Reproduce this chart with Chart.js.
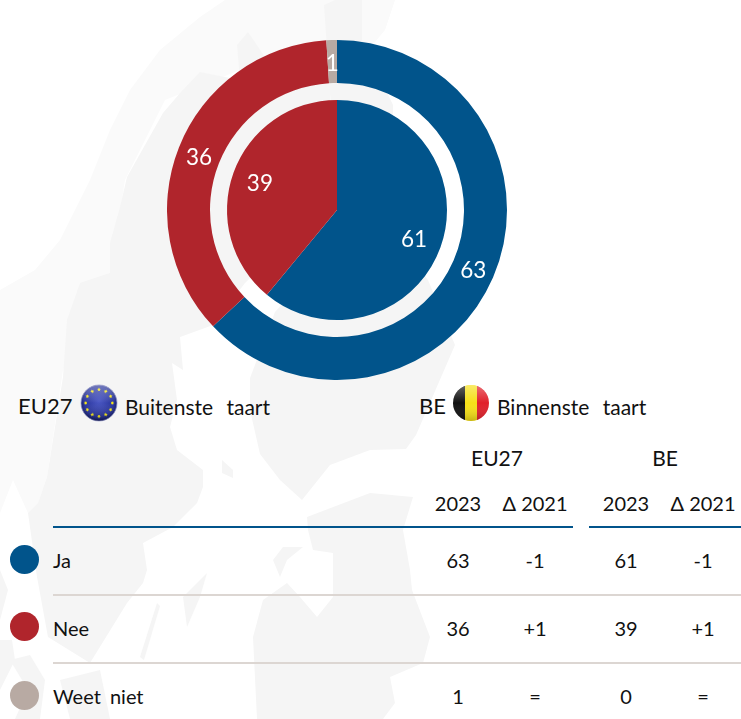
<!DOCTYPE html>
<html>
<head>
<meta charset="utf-8">
<title>Taart EU27 / BE</title>
<script src="https://cdn.jsdelivr.net/npm/chart.js@4/dist/chart.umd.min.js"></script>
<style>
    html, body { margin: 0; padding: 0; background: #fff; overflow: hidden; }
    #page { position: relative; width: 741px; height: 719px; overflow: hidden; font-family: Lato, sans-serif; color: #111; }
    #map, #flags { position: absolute; left: 0; top: 0; }
    #divChart { position: absolute; left: 167px; top: 40px; width: 340px; height: 340px; }
    .txt { position: absolute; white-space: pre; font-size: 20px; line-height: 24px; transform: translate(-50%, -50%); }
    .left { transform: translate(0, -50%); }
    .wide { word-spacing: 4px; }
    .wider { word-spacing: 8px; }
    .rule { position: absolute; height: 1.5px; background: #dcd6d2; }
    .rule.top { height: 2px; background: #01548b; }
    .dot { position: absolute; width: 29px; height: 29px; border-radius: 50%; }
</style>
</head>
<body>
<div id="page">
    <svg id="map" width="741" height="719">
        <g fill="#fafafa">
            <path d="M225 0L200 17L160 50L130 90L110 130L90 180L60 240L35 270L0 290V513L13 480L28 513L38 503L47 477L63 370L110 275L125 180L165 100L240 70L330 40V0Z"/>
            <path d="M225 0H395L385 30L360 60L240 70Z"/>
        </g>
        <g fill="#f5f5f5">
            <path d="M200 72L180 93L163 113L127 177L120 207L110 243L110 273L80 283L67 320L63 377L47 477L38 503L28 513L37 577L48 637L90 663L127 603L143 583L147 570L143 543L173 527L197 503L203 487L203 470L190 460L177 450L170 427L177 400L172 363L183 370L180 337L213 325L245 283L330 200L330 60L267 60L248 32L237 45L240 80Z"/>
            <path d="M324 5L335 0H362V40L393 105L393 160L420 270L428 280L455 345L416 435L406 449L370 450L330 465L302 500L280 480L260 454L250 410L250 378L275 312L340 240Z"/>
            <path d="M307 517L370 493L413 497L403 530L410 570L412 590L430 637L423 663L390 677L395 703L383 719H257L253 637L263 600L287 583L300 597L317 617L333 597L333 553L313 550L308 530Z"/>
            <path d="M183 597L207 573L200 597L187 627Z"/>
            <path d="M157 603L140 657L144 660L160 606Z"/>
            <path d="M273 560L283 547L303 547L287 560L280 577Z"/>
            <path d="M222 460L233 470L233 478L222 473Z"/>
            <path d="M0 570L8 590L0 620Z"/>
            <path d="M0 640L12 640L15 660L0 690Z"/>
            <path d="M10 660L30 655L45 680L40 719H15L28 690Z"/>
            <path d="M60 680L100 670L110 719H70Z"/>
        </g>
    </svg>
    <svg id="flags" width="741" height="719">
        <defs>
            <radialGradient id="gradEu" cx="50%" cy="45%" r="55%">
                <stop offset="0" stop-color="#4a57c4"/>
                <stop offset="0.75" stop-color="#27339a"/>
                <stop offset="1" stop-color="#0e1660"/>
            </radialGradient>
            <linearGradient id="gradShine" x1="0" y1="0" x2="0" y2="1">
                <stop offset="0" stop-color="#fff" stop-opacity="0.35"/>
                <stop offset="0.5" stop-color="#fff" stop-opacity="0"/>
                <stop offset="1" stop-color="#000" stop-opacity="0.2"/>
            </linearGradient>
            <clipPath id="clipBe"><circle cx="471" cy="403" r="18"/></clipPath>
        </defs>
        <circle cx="99" cy="403" r="18" fill="url(#gradEu)" stroke="#8f95c8" stroke-width="0.7"/>
        <g id="euStars" fill="#f5e616"></g>
        <circle cx="99" cy="403" r="18" fill="url(#gradShine)"/>
        <g clip-path="url(#clipBe)">
            <rect x="453" y="385" width="12" height="36" fill="#111"/>
            <rect x="465" y="385" width="12" height="36" fill="#f6e017"/>
            <rect x="477" y="385" width="12" height="36" fill="#e0202a"/>
            <circle cx="471" cy="403" r="18" fill="url(#gradShine)"/>
        </g>
    </svg>
    <div id="divChart"><canvas id="pieChart" width="340" height="340"></canvas></div>
    <div id="divTable"></div>
</div>

<script>
var categories = ['Ja', 'Nee', 'Weet niet'];
var colors = ['#01548b', '#b0252c', '#b8aaa3'];
var eu2023 = [63, 36, 1];
var euDelta = ['-1', '+1', '='];
var be2023 = [61, 39, 0];
var beDelta = ['-1', '+1', '='];
var groupLabels = ['EU27', 'BE'];
var yearLabels = ['2023', '\u0394 2021'];

var _table = document.getElementById('divTable');

function addText(text, x, y, size, cls) {
    var el = document.createElement('div');
    el.className = 'txt ' + (cls || '');
    el.textContent = text;
    el.style.left = x + 'px';
    el.style.top = y + 'px';
    if (size) {
        el.style.fontSize = size + 'px';
    }
    _table.appendChild(el);
}

function addRule(x, y, width, cls) {
    var el = document.createElement('div');
    el.className = 'rule ' + (cls || '');
    el.style.left = x + 'px';
    el.style.top = y + 'px';
    el.style.width = width + 'px';
    _table.appendChild(el);
}

function addStars() {
    var holder = document.getElementById('euStars');
    var html = '';
    for (var i = 0; i < 12; i++) {
        html += '<path transform="rotate(' + (i * 30) + ' 99 403) translate(99 389.5)" d="M0 -2L.6 -.7L2 -.6L.9 .3L1.2 1.7L0 1L-1.2 1.7L-.9 .3L-2 -.6L-.6 -.7Z"/>';
    }
    holder.innerHTML = html;
}

function buildLegend() {
    addText('EU27', 18, 406, 22, 'left');
    addText('Buitenste taart', 125, 407, 21, 'left wider');
    addText('BE', 419, 406, 22, 'left');
    addText('Binnenste taart', 497, 407, 21, 'left wider');
}

function buildTable() {
    var columns = [458, 535, 626, 703];
    var rowsY = [560, 628, 696];
    var dotsY = [559, 626, 695];

    addText(groupLabels[0], 497, 458, 21);
    addText(groupLabels[1], 665, 458, 21);
    for (var c = 0; c < columns.length; c++) {
        addText(yearLabels[c % 2], columns[c], 503, 20);
    }
    addRule(53, 526, 520, 'top');
    addRule(589, 526, 152, 'top');
    addRule(53, 594, 688);
    addRule(53, 662, 688);

    for (var i = 0; i < categories.length; i++) {
        var dot = document.createElement('div');
        dot.className = 'dot';
        dot.style.left = '10px';
        dot.style.top = (dotsY[i] - 14.5) + 'px';
        dot.style.background = colors[i];
        _table.appendChild(dot);

        addText(categories[i], 53, rowsY[i], 20, 'left wide');
        addText(String(eu2023[i]), columns[0], rowsY[i]);
        addText(euDelta[i], columns[1], rowsY[i]);
        addText(String(be2023[i]), columns[2], rowsY[i]);
        addText(beDelta[i], columns[3], rowsY[i]);
    }
}

// waarden op de taart, binnenste taart iets naar buiten
var sliceLabels = {
    id: 'sliceLabels',
    afterDatasetsDraw: function (chart) {
        var ctx = chart.ctx;
        var ringPos = {0: 0.5, 2: 0.745};
        ctx.save();
        ctx.fillStyle = '#fff';
        ctx.font = '22.5px Lato';
        ctx.textAlign = 'center';
        ctx.textBaseline = 'middle';
        [0, 2].forEach(function (d) {
            chart.getDatasetMeta(d).data.forEach(function (arc, i) {
                var value = chart.data.datasets[d].data[i];
                if (!value) {
                    return;
                }
                var p = arc.getProps(['x', 'y', 'startAngle', 'endAngle', 'innerRadius', 'outerRadius'], true);
                var mid = (p.startAngle + p.endAngle) / 2;
                var r = p.innerRadius + (p.outerRadius - p.innerRadius) * ringPos[d];
                ctx.fillText(String(value), p.x + Math.cos(mid) * r, p.y + Math.sin(mid) * r + 2);
            });
        });
        ctx.restore();
    }
};

function buildChart() {
    new Chart(document.getElementById('pieChart'), {
        type: 'doughnut',
        plugins: [sliceLabels],
        data: {
            labels: categories,
            datasets: [
                {label: 'EU27', data: eu2023, backgroundColor: colors, weight: 43},
                {label: 'ruimte', data: [], weight: 17},
                {label: 'BE', data: be2023, backgroundColor: colors, weight: 110}
            ]
        },
        options: {
            responsive: false,
            animation: false,
            cutout: 0,
            layout: {padding: 0},
            elements: {arc: {borderWidth: 0}},
            plugins: {legend: {display: false}, tooltip: {enabled: false}}
        }
    });
}

addStars();
buildLegend();
buildTable();
buildChart();
</script>
</body>
</html>
